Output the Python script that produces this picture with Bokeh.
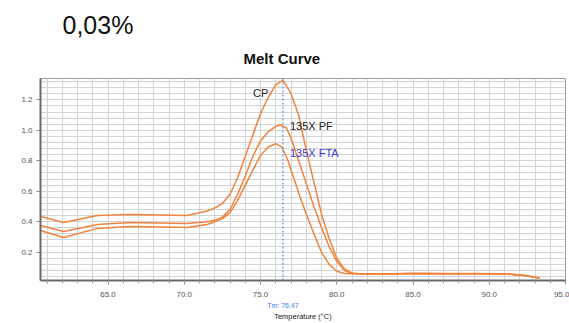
from bokeh.plotting import figure
from bokeh.models import (Label, Span, FixedTicker, Range1d, Title, LinearAxis,
                          PrintfTickFormatter, CustomJSTickFormatter)
from bokeh.embed import file_html
from bokeh.resources import INLINE

# ---- data ----
cp_t = [60.57, 62.08, 64.3, 66.46, 70.19, 71.5, 72.0, 72.5, 73.0, 73.5, 74.0, 74.5, 75.0,
        75.5, 76.0, 76.47, 77.0, 77.5, 78.0, 78.5, 79.0, 79.5, 80.0, 80.5, 81.0, 81.5,
        83.0, 85.0, 87.0, 89.0, 91.1, 92.3, 93.3]
cp_v = [0.434, 0.395, 0.44, 0.447, 0.44, 0.47, 0.49, 0.52, 0.58, 0.69, 0.83, 0.97, 1.11,
        1.215, 1.30, 1.327, 1.24, 1.10, 0.87, 0.66, 0.45, 0.29, 0.16, 0.09, 0.063, 0.058,
        0.057, 0.062, 0.06, 0.06, 0.058, 0.048, 0.03]

pf_t = [60.57, 62.08, 64.3, 66.46, 70.19, 71.5, 72.0, 72.5, 73.0, 73.5, 74.0, 74.5, 75.0,
        75.5, 76.0, 76.3, 76.7, 77.0, 77.5, 78.0, 78.5, 79.0, 79.5, 80.0, 80.5, 81.0,
        83.0, 85.0, 87.0, 89.0, 91.1, 92.3, 93.3]
pf_v = [0.375, 0.336, 0.382, 0.395, 0.388, 0.40, 0.41, 0.43, 0.48, 0.58, 0.70, 0.83, 0.93,
        0.99, 1.025, 1.036, 1.015, 0.95, 0.80, 0.65, 0.50, 0.36, 0.235, 0.14, 0.08, 0.06,
        0.056, 0.06, 0.059, 0.059, 0.057, 0.047, 0.03]

fta_t = [60.57, 62.08, 64.3, 66.46, 70.19, 71.5, 72.0, 72.5, 73.0, 73.5, 74.0, 74.5, 75.0,
         75.5, 76.0, 76.4, 76.8, 77.2, 77.6, 78.0, 78.5, 79.0, 79.5, 80.0, 80.5, 81.5,
         83.0, 85.0, 87.0, 89.0, 91.1, 92.3, 93.3]
fta_v = [0.342, 0.296, 0.356, 0.369, 0.362, 0.382, 0.40, 0.42, 0.46, 0.54, 0.64, 0.74, 0.835,
         0.89, 0.912, 0.89, 0.80, 0.68, 0.56, 0.45, 0.32, 0.20, 0.12, 0.075, 0.06, 0.056,
         0.055, 0.059, 0.058, 0.058, 0.056, 0.046, 0.03]

tm_value = 76.47
x_ticks = [65, 70, 75, 80, 85, 90, 95]
x_minor = list(range(61, 95))
y_ticks = [0.2, 0.4, 0.6, 0.8, 1.0, 1.2]
y_minor = [round(0.04 * k, 2) for k in range(1, 34)]

LINE = "#f0843f"
FONT = "Liberation Sans"

p = figure(width=569, height=323, output_backend="svg", toolbar_location=None,
           x_range=Range1d(60.57, 95.0), y_range=Range1d(0.014, 1.34),
           min_border_left=40, min_border_right=4, min_border_top=78, min_border_bottom=43)
p.background_fill_color = "white"
p.border_fill_color = "white"
p.outline_line_color = "#9a9a9a"
p.outline_line_width = 1

# axes
p.xaxis.ticker = FixedTicker(ticks=x_ticks, minor_ticks=x_minor)
p.yaxis.ticker = FixedTicker(ticks=y_ticks, minor_ticks=y_minor)
p.xaxis.formatter = PrintfTickFormatter(format="%.1f")
p.yaxis.formatter = PrintfTickFormatter(format="%.1f")
for ax in (p.xaxis, p.yaxis):
    ax.axis_line_color = "#6a6a6a"
    ax.axis_line_width = 2
    ax.major_tick_line_color = "#8a8a8a"
    ax.major_tick_in = 0
    ax.major_tick_out = 4
    ax.major_label_text_font = FONT
    ax.major_label_text_font_size = "8px"
    ax.major_label_text_color = "#555555"
p.xaxis.minor_tick_line_color = "#9a9a9a"
p.xaxis.minor_tick_in = 0
p.xaxis.minor_tick_out = 3
p.yaxis.minor_tick_line_color = None
p.xaxis.major_label_standoff = 7
p.yaxis.major_label_standoff = 4

# second bottom axis: Tm value and axis title
tm_axis = LinearAxis(ticker=FixedTicker(ticks=[tm_value]),
                     formatter=CustomJSTickFormatter(
                         code="return 'Tm: ' + tick.toFixed(2).replace('.', ',');"),
                     axis_line_color=None, major_tick_line_color=None,
                     minor_tick_line_color=None,
                     major_label_standoff=-4,
                     major_label_text_font=FONT, major_label_text_font_size="7px",
                     major_label_text_color="#3c7ee0",
                     axis_label="Temperature (°C)", axis_label_standoff=0,
                     axis_label_text_font=FONT, axis_label_text_font_size="7.5px",
                     axis_label_text_font_style="normal", axis_label_text_color="#222222")
p.add_layout(tm_axis, "below")

# grids
for g in (p.xgrid, p.ygrid):
    g.grid_line_color = "#d4d4d4"
    g.grid_line_width = 1
    g.minor_grid_line_color = "#d4d4d4"
    g.minor_grid_line_width = 1

# curves
p.line(cp_t, cp_v, line_color=LINE, line_width=1.5)
p.line(pf_t, pf_v, line_color=LINE, line_width=1.5)
p.line(fta_t, fta_v, line_color=LINE, line_width=1.5)

# Tm marker
p.add_layout(Span(location=tm_value, dimension="height", line_color="#5b8fe0",
                  line_width=1.2, line_dash="2 2"))

# curve labels
p.add_layout(Label(x=74.51, y=1.245, text="CP", text_font=FONT, text_font_size="11px",
                   text_color="#222222", text_baseline="alphabetic"))
p.add_layout(Label(x=76.93, y=1.03, text="135X PF", text_font=FONT, text_font_size="11px",
                   text_color="#222222", text_baseline="alphabetic"))
p.add_layout(Label(x=76.93, y=0.85, text="135X FTA", text_font=FONT, text_font_size="11px",
                   text_color="#3a3ad6", text_baseline="alphabetic"))

# titles above
p.add_layout(Title(text="Melt Curve", align="left", offset=203, text_font=FONT,
                   text_font_size="15px", text_font_style="bold", text_color="#111111",
                   standoff=23), "above")
p.add_layout(Title(text="0,03%", align="left", offset=22, text_font=FONT,
                   text_font_size="25px", text_font_style="normal", text_color="#111111",
                   standoff=-4), "above")

open("out.html", "w").write(file_html(p, INLINE))
